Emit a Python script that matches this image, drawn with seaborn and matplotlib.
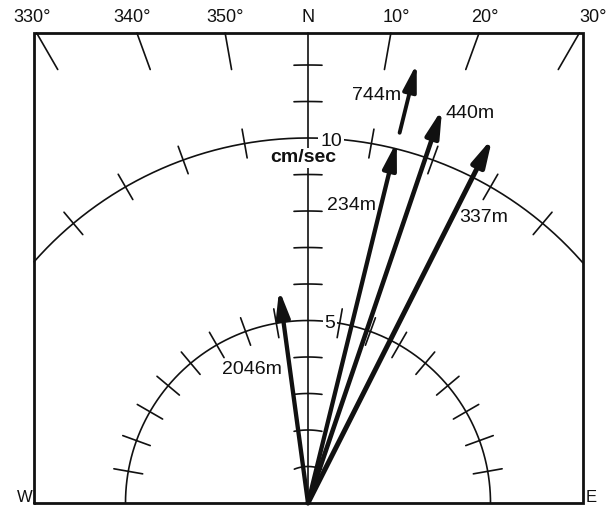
import numpy as np
import pandas as pd
import matplotlib
matplotlib.use("Agg")
import matplotlib.pyplot as plt
from matplotlib.patches import FancyArrowPatch, ArrowStyle
import seaborn as sns

# Current vectors at each depth: direction (degrees true) and speed (cm/sec)
depth_labels = ["744m", "440m", "337m", "234m", "2046m"]
directions_deg = [13.9, 18.8, 26.8, 13.8, 352.3]
speeds_cms = [12.4, 11.4, 11.2, 10.2, 5.9]

# Compass bearings marked along the top edge
bearing_labels = ["330°", "340°", "350°", "N", "10°", "20°", "30°"]
bearing_deg = [-30, -20, -10, 0, 10, 20, 30]

# Speed rings and their tick bearings
ring_speeds = [5, 10]
ring_tick_deg = {5: [-80, -70, -60, -50, -40, -30, -20, -10, 10, 20, 30, 40, 50, 60, 70, 80],
                 10: [-40, -30, -20, -10, 10, 20, 30, 40]}
axis_tick_speeds = [1, 2, 3, 4, 6, 7, 8, 9, 11, 12]

sns.set_theme(style="white")
plt.rcParams["font.family"] = ["Liberation Sans", "DejaVu Sans"]

W, H = 611, 507
PX = 36.5            # pixels per cm/sec
OX, OY = 308, 503    # pixel position of the origin


def px2d(px, py):
    return (px - OX) / PX, (OY - py) / PX


fig = plt.figure(figsize=(W / 100, H / 100), dpi=100)
ax = fig.add_axes([0, 0, 1, 1])
ax.set_xlim(-OX / PX, (W - OX) / PX)
ax.set_ylim(-(H - OY) / PX, OY / PX)
ax.axis("off")

ink = "#111111"
left, _ = px2d(34, 0)
right, _ = px2d(583, 0)
_, top = px2d(0, 33)

# Frame
ax.plot([left, left, right, right, left], [0, top, top, 0, 0],
        color=ink, lw=2.0, solid_joinstyle="miter", zorder=2)

# North axis
ax.plot([0, 0], [0, top], color=ink, lw=1.2, zorder=1)

# Speed ticks on the north axis, drawn as short arcs
for s in axis_tick_speeds:
    half = (14 / PX) / s
    t = np.linspace(-half, half, 30)
    ax.plot(s * np.sin(t), s * np.cos(t), color=ink, lw=1.2, zorder=1)

# Speed rings
for r in ring_speeds:
    lim = np.degrees(np.arcsin(min(1.0, max(-left, right) / r)))
    th = np.radians(np.linspace(-lim, lim, 400))
    ring = pd.DataFrame({"x": r * np.sin(th), "y": r * np.cos(th)})
    ring = ring[(ring.x >= left) & (ring.x <= right)]
    sns.lineplot(data=ring, x="x", y="y", sort=False, estimator=None,
                 color=ink, lw=1.2, ax=ax, zorder=1)
    for b in ring_tick_deg[r]:
        a = np.radians(b)
        rr = np.array([r - 0.4, r + 0.4])
        ax.plot(rr * np.sin(a), rr * np.cos(a), color=ink, lw=1.2, zorder=1)

# Bearing ticks along the top edge
for b in bearing_deg:
    if b == 0:
        continue
    a = np.radians(b)
    y0, y1 = top, top - 1.0
    ax.plot([y0 * np.tan(a), y1 * np.tan(a)], [y0, y1], color=ink, lw=1.2, zorder=1)

# Bearing labels
label_px = {-30: 32, -20: 132, -10: 225, 0: 308, 10: 396, 20: 485, 30: 593}
for b, lab in zip(bearing_deg, bearing_labels):
    x, y = px2d(label_px[b], 18)
    ax.text(x, y, lab, ha="center", va="center", fontsize=13, color=ink)

x, y = px2d(25, 498)
ax.text(x, y, "W", ha="center", va="center", fontsize=12, color=ink)
x, y = px2d(591, 498)
ax.text(x, y, "E", ha="center", va="center", fontsize=12, color=ink)

# Ring and unit labels
box = dict(boxstyle="square,pad=0.1", fc="white", ec="none")
x, y = px2d(331, 141)
ax.text(x, y, "10", ha="center", va="center", fontsize=14, color=ink, bbox=box, zorder=3)
x, y = px2d(303, 158)
ax.text(x, y, "cm/sec", ha="center", va="center", fontsize=14, color=ink,
        fontweight="bold", bbox=box, zorder=3)
x, y = px2d(330, 323)
ax.text(x, y, "5", ha="center", va="center", fontsize=14, color=ink, bbox=box, zorder=3)

# Current vectors
shaft_width = {"744m": 2.8, "440m": 3.3, "337m": 3.6, "234m": 3.1, "2046m": 3.1}
shaft_start = {"744m": 10.45}
label_pos = {"744m": (377, 96), "440m": (470, 114), "337m": (484, 218),
             "234m": (352, 206), "2046m": (252, 370)}

for lab, d, s in zip(depth_labels, directions_deg, speeds_cms):
    a = np.radians(d)
    r0 = shaft_start.get(lab, 0.0)
    start = (r0 * np.sin(a), r0 * np.cos(a))
    end = (s * np.sin(a), s * np.cos(a))
    arr = FancyArrowPatch(start, end,
                          arrowstyle=ArrowStyle("-|>", head_length=1.6, head_width=0.4),
                          mutation_scale=10, lw=shaft_width[lab], color=ink,
                          shrinkA=0, shrinkB=0, zorder=4)
    ax.add_patch(arr)
    x, y = px2d(*label_pos[lab])
    ax.text(x, y, lab, ha="center", va="center", fontsize=14, color=ink, zorder=5)

fig.savefig("out.png", dpi=100, facecolor="white")
